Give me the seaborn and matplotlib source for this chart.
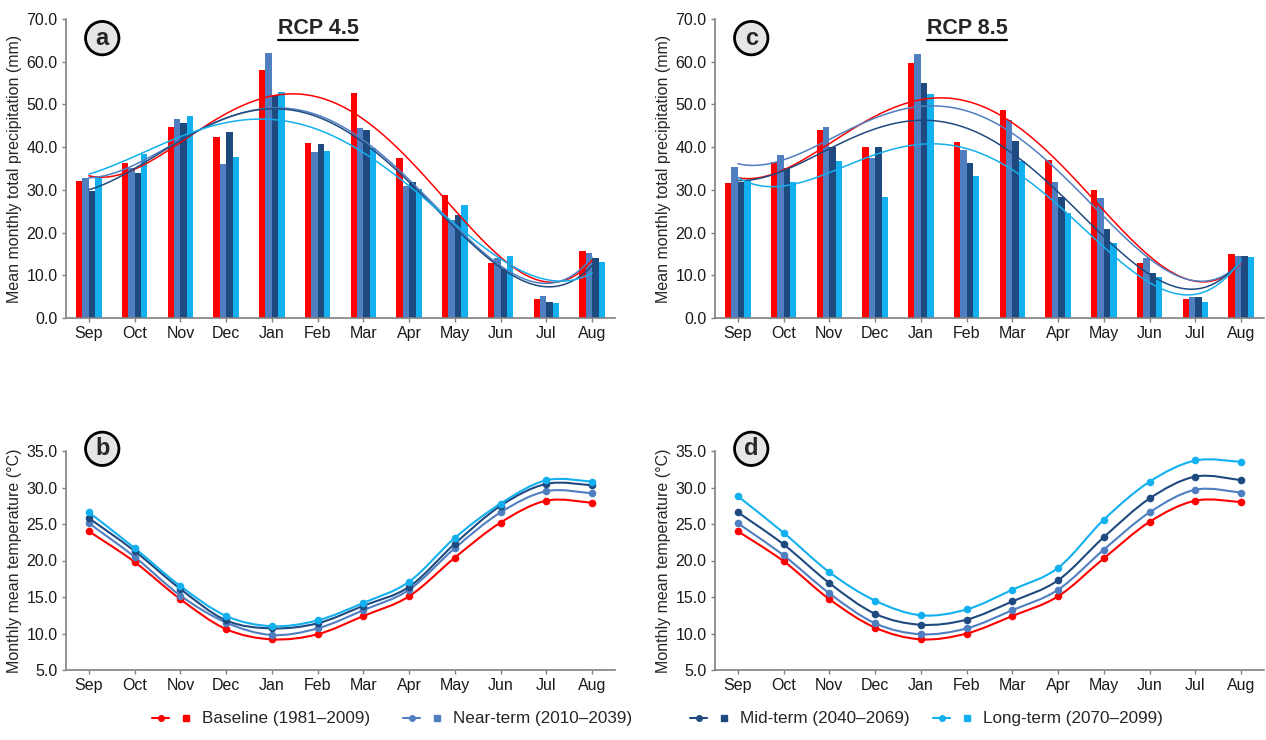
import numpy as np
import pandas as pd
import seaborn as sns
import matplotlib.pyplot as plt
from matplotlib.path import Path
from matplotlib.patches import PathPatch
from matplotlib.lines import Line2D
from matplotlib.legend_handler import HandlerTuple

# Months (hydrological year) and periods
meses = ["Sep", "Oct", "Nov", "Dec", "Jan", "Feb", "Mar", "Apr", "May", "Jun", "Jul", "Aug"]
periodos = ["Baseline (1981–2009)", "Near-term (2010–2039)",
            "Mid-term (2040–2069)", "Long-term (2070–2099)"]
cores = ["#ff0000", "#4f7fc0", "#1f4a7f", "#12b0ef"]

# Precipitation (mm), RCP 4.5
prec45_base = [32.0, 36.2, 44.6, 42.4, 58.0, 40.9, 52.6, 37.4, 28.8, 12.8, 4.4, 15.7]
prec45_near = [32.7, 35.1, 46.5, 36.1, 62.0, 38.9, 44.4, 30.8, 23.0, 14.0, 5.2, 15.2]
prec45_mid = [29.8, 33.9, 45.6, 43.5, 52.1, 40.7, 44.1, 31.9, 24.1, 11.4, 3.8, 14.0]
prec45_long = [32.7, 38.4, 47.4, 37.6, 52.9, 39.1, 39.7, 30.1, 26.5, 14.5, 3.4, 13.0]

# Precipitation (mm), RCP 8.5
prec85_base = [31.5, 36.5, 43.9, 40.0, 59.8, 41.1, 48.7, 37.0, 30.0, 12.8, 4.4, 15.1]
prec85_near = [35.3, 38.2, 44.8, 37.4, 61.7, 39.3, 46.4, 31.9, 28.0, 14.1, 5.0, 14.6]
prec85_mid = [31.9, 35.2, 40.0, 40.0, 55.1, 36.2, 41.5, 28.4, 20.9, 10.6, 4.8, 14.5]
prec85_long = [32.3, 31.9, 36.8, 28.3, 52.4, 33.3, 36.8, 24.5, 17.6, 9.7, 3.7, 14.3]

# Temperature (°C), RCP 4.5
temp45_base = [24.0, 19.8, 14.7, 10.6, 9.2, 9.9, 12.4, 15.1, 20.4, 25.2, 28.2, 27.9]
temp45_near = [25.1, 20.5, 15.2, 11.5, 9.8, 10.7, 13.2, 16.0, 21.7, 26.6, 29.5, 29.2]
temp45_mid = [25.8, 21.3, 16.1, 11.8, 10.7, 11.4, 13.8, 16.4, 22.3, 27.5, 30.5, 30.3]
temp45_long = [26.6, 21.7, 16.5, 12.4, 11.0, 11.8, 14.2, 17.1, 23.1, 27.8, 31.0, 30.8]

# Temperature (°C), RCP 8.5
temp85_base = [24.0, 19.9, 14.7, 10.8, 9.2, 10.0, 12.4, 15.1, 20.3, 25.3, 28.2, 28.0]
temp85_near = [25.1, 20.7, 15.5, 11.4, 9.9, 10.7, 13.2, 16.0, 21.5, 26.6, 29.7, 29.3]
temp85_mid = [26.6, 22.2, 16.9, 12.7, 11.2, 11.9, 14.4, 17.3, 23.2, 28.5, 31.5, 31.0]
temp85_long = [28.8, 23.8, 18.4, 14.5, 12.5, 13.3, 16.0, 19.0, 25.6, 30.8, 33.7, 33.5]

prec45 = [prec45_base, prec45_near, prec45_mid, prec45_long]
prec85 = [prec85_base, prec85_near, prec85_mid, prec85_long]
temp45 = [temp45_base, temp45_near, temp45_mid, temp45_long]
temp85 = [temp85_base, temp85_near, temp85_mid, temp85_long]

sns.set_style("white")
plt.rcParams["font.family"] = ["Liberation Sans", "DejaVu Sans"]

fig = plt.figure(figsize=(12.66, 7.4), dpi=100)
W, H = 1266, 740
ax_a = fig.add_axes([66 / W, 1 - 318 / H, 549 / W, 299 / H])
ax_c = fig.add_axes([715 / W, 1 - 318 / H, 549 / W, 299 / H])
ax_b = fig.add_axes([66 / W, 1 - 670 / H, 549 / W, 219 / H])
ax_d = fig.add_axes([715 / W, 1 - 670 / H, 549 / W, 219 / H])

pos = np.arange(len(meses))


def tabela(series):
    linhas = []
    for nome, valores in zip(periodos, series):
        for m, v in zip(meses, valores):
            linhas.append({"mes": m, "periodo": nome, "valor": v})
    return pd.DataFrame(linhas)


def curva_suave(ax, x, y, cor):
    # smoothed line through the points (Catmull-Rom as Bezier segments)
    pts = np.column_stack([x, y]).astype(float)
    ext = np.vstack([pts[0], pts, pts[-1]])
    verts = [pts[0]]
    codes = [Path.MOVETO]
    for i in range(1, len(ext) - 2):
        p0, p1, p2, p3 = ext[i - 1], ext[i], ext[i + 1], ext[i + 2]
        verts += [p1 + (p2 - p0) / 6, p2 - (p3 - p1) / 6, p2]
        codes += [Path.CURVE4] * 3
    ax.add_patch(PathPatch(Path(verts, codes), fill=False, edgecolor=cor, lw=1.5, zorder=2))


def circulo(ax, y, letra):
    ax.text(0.066, y, letra, transform=ax.transAxes, ha="center", va="center",
            fontsize=17, fontweight="bold",
            bbox=dict(boxstyle="circle,pad=0.22", fc="#e6e6e6", ec="black", lw=2))


def painel_prec(ax, series, letra, titulo):
    df = tabela(series)
    sns.barplot(data=df, x="mes", y="valor", hue="periodo", order=meses,
                hue_order=periodos, palette=cores, width=0.56, gap=0,
                saturation=1, linewidth=0, legend=False, ax=ax, zorder=1)
    for valores, cor in zip(series, cores):
        sns.regplot(x=pos, y=np.array(valores), order=4, ci=None, scatter=False,
                    color=cor, line_kws={"lw": 1.1, "zorder": 3}, ax=ax)
    ax.set_ylim(0, 70)
    ax.set_yticks(np.arange(0, 71, 10))
    ax.set_ylabel("Mean monthly total precipitation (mm)", fontsize=11.5, labelpad=3)
    tit = ax.text(0.459, 0.968, titulo, transform=ax.transAxes, ha="center",
                  va="center", fontsize=15.5, fontweight="bold")
    circulo(ax, 0.936, letra)
    return tit


def painel_temp(ax, series, letra):
    for valores, cor in zip(series, cores):
        curva_suave(ax, pos, valores, cor)
        sns.scatterplot(x=pos, y=valores, color=cor, s=30, edgecolor=cor,
                        linewidth=0, ax=ax, zorder=3)
    ax.set_ylim(5, 35)
    ax.set_yticks(np.arange(5, 36, 5))
    ax.set_ylabel("Monthly mean temperature (°C)", fontsize=11.5, labelpad=3)
    circulo(ax, 1.01, letra)


tit_a = painel_prec(ax_a, prec45, "a", "RCP 4.5")
tit_c = painel_prec(ax_c, prec85, "c", "RCP 8.5")
painel_temp(ax_b, temp45, "b")
painel_temp(ax_d, temp85, "d")

for ax in [ax_a, ax_b, ax_c, ax_d]:
    ax.set_xlim(-0.5, 11.5)
    ax.set_xticks(pos)
    ax.set_xticklabels(meses)
    ax.set_xlabel("")
    ax.yaxis.set_major_formatter(plt.FormatStrFormatter("%.1f"))
    sns.despine(ax=ax)
    for s in ["left", "bottom"]:
        ax.spines[s].set_color("#808080")
        ax.spines[s].set_linewidth(1.2)
    ax.tick_params(axis="both", labelsize=11.5, colors="#808080", labelcolor="#1a1a1a",
                   length=3, width=1, direction="out", left=True, bottom=True, pad=3)

# underline titles
fig.canvas.draw()
for t in [tit_a, tit_c]:
    bb = t.get_window_extent().transformed(fig.transFigure.inverted())
    fig.add_artist(Line2D([bb.x0, bb.x1], [bb.y0 - 0.001, bb.y0 - 0.001],
                          transform=fig.transFigure, color="black", lw=1.6))

# legend, one entry at a time
inicio = [152, 403, 690, 933]
for nome, cor, x0 in zip(periodos, cores, inicio):
    linha = Line2D([], [], color=cor, marker="o", markersize=4, lw=1.5)
    barra = Line2D([], [], color=cor, marker="s", markersize=5, linestyle="none")
    fig.legend([(linha, barra)], [nome], loc="center left",
               bbox_to_anchor=(x0 / W, 1 - 719 / H), frameon=False, fontsize=12.3,
               handlelength=2.5, handletextpad=0.45, borderpad=0, borderaxespad=0,
               handler_map={tuple: HandlerTuple(ndivide=None, pad=0.5)})

plt.savefig("out.png", dpi=100)
